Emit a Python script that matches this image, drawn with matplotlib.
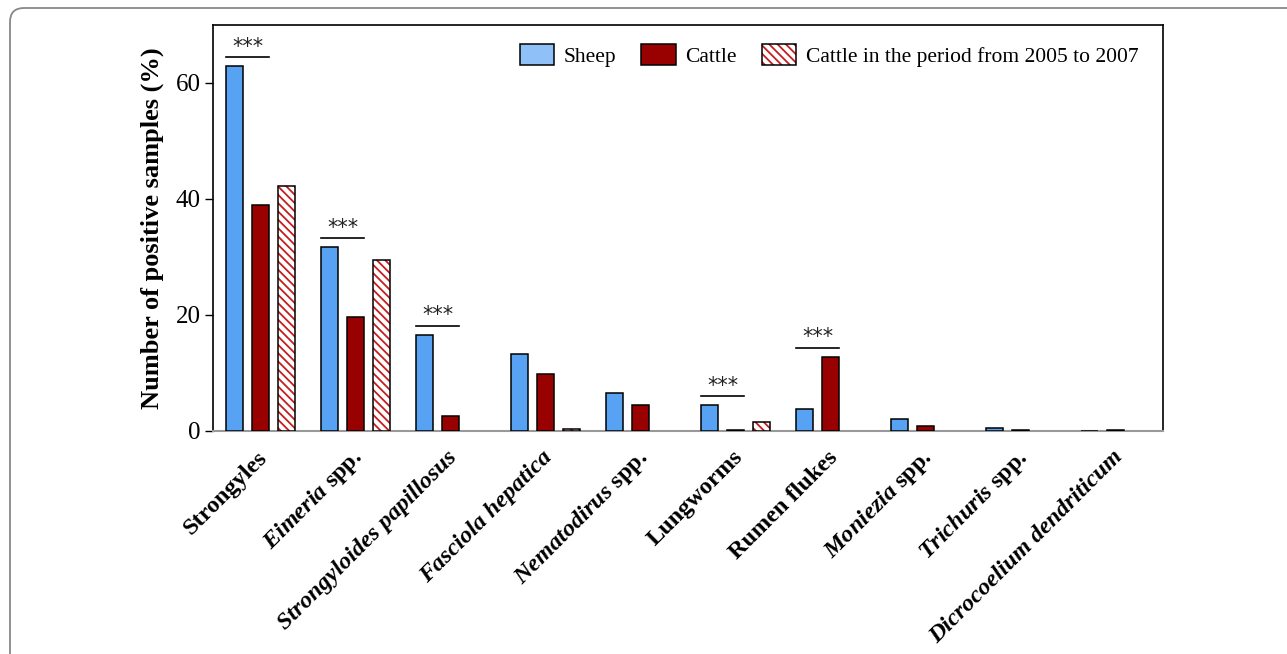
import matplotlib.pyplot as plt
import numpy as np
from matplotlib.patches import Rectangle, FancyBboxPatch
from matplotlib.legend_handler import HandlerTuple

plt.rcParams['font.family'] = ['Liberation Serif', 'DejaVu Serif']
plt.rcParams['mathtext.fontset'] = 'custom'
plt.rcParams['mathtext.rm'] = 'Liberation Serif:bold'
plt.rcParams['mathtext.it'] = 'Liberation Serif:italic:bold'
plt.rcParams['hatch.linewidth'] = 1.3

parasitos = [r'Strongyles', r'$Eimeria$ spp.', r'Strongyloides papillosus',
             r'Fasciola hepatica', r'$Nematodirus$ spp.', r'Lungworms',
             r'Rumen flukes', r'$Moniezia$ spp.', r'$Trichuris$ spp.',
             r'Dicrocoelium dendriticum']
cursiva = [False, False, True, True, False, False, False, False, False, True]

ovejas = [62.9, 31.7, 16.6, 13.3, 6.6, 4.5, 3.8, 2.1, 0.6, 0.0]
vacas = [39.0, 19.7, 2.6, 9.8, 4.5, 0.2, 12.8, 0.85, 0.15, 0.15]
vacas_2005 = [42.2, 29.5, 0.0, 0.3, 0.0, 1.6, 0.0, 0.0, 0.0, 0.0]

# grupos con diferencia significativa (ovejas vs vacas)
signif = [0, 1, 2, 5, 6]

azul = '#58A2F3'
rojo = '#990000'
rojo_rayas = '#C41E1E'

fig = plt.figure(figsize=(12.87, 6.54), dpi=100)

# marco redondeado de la figura
marco = FancyBboxPatch((10, -60), 1400, 654 - 8 + 60,
                       boxstyle='round,pad=0,rounding_size=14',
                       transform=None, fill=False, edgecolor='#888888',
                       linewidth=1.3)
fig.patches.append(marco)

ax = fig.add_axes([0.1655, 0.341, 0.7382, 0.6208])

x = np.arange(len(parasitos))
ancho = 0.18
sep = 0.27

ax.bar(x - sep, ovejas, ancho, color=azul, edgecolor='black', linewidth=1.1, zorder=3)
ax.bar(x, vacas, ancho, color=rojo, edgecolor='black', linewidth=1.1, zorder=3)

v05 = np.array(vacas_2005)
mask = v05 > 0
ax.bar(x[mask] + sep, v05[mask], ancho, color='white', edgecolor=rojo_rayas,
       hatch='\\\\\\\\', linewidth=0, zorder=3)
ax.bar(x[mask] + sep, v05[mask], ancho, fill=False, edgecolor='black',
       linewidth=1.1, zorder=4)

for i in signif:
    tope = max(ovejas[i], vacas[i]) + 1.5
    ax.plot([x[i] - sep - ancho / 2, x[i] + ancho / 2], [tope, tope],
            color='black', linewidth=1.2, zorder=5)
    ax.text(x[i] - sep / 2, tope + 0.1, '***', ha='center', va='bottom',
            fontsize=15, family='DejaVu Sans', color='#222222')

ax.set_xlim(-0.5, len(parasitos) - 0.5)
ax.set_ylim(0, 70)
ax.set_yticks([0, 20, 40, 60])
ax.tick_params(axis='y', labelsize=18, length=6, width=1, direction='out', pad=3)
ax.tick_params(axis='x', length=0)
ax.set_xticks(x)
ax.set_xticklabels([])

for i, nombre in enumerate(parasitos):
    ax.text(x[i] + 0.04, -4, nombre, rotation=45, rotation_mode='anchor',
            ha='right', va='center', fontsize=17.5, fontweight='bold',
            fontstyle='italic' if cursiva[i] else 'normal',
            transform=ax.transData, clip_on=False)

ax.set_ylabel('Number of positive samples (%)', fontsize=19, fontweight='bold',
              labelpad=8)

for lado in ['left', 'top', 'right']:
    ax.spines[lado].set_linewidth(1.2)
    ax.spines[lado].set_color('black')
ax.spines['bottom'].set_color('#999999')
ax.spines['bottom'].set_linewidth(1.5)

h_ov = Rectangle((0, 0), 1, 1, facecolor='#8FC0F7', edgecolor='black', linewidth=1.1)
h_va = Rectangle((0, 0), 1, 1, facecolor=rojo, edgecolor='black', linewidth=1.1)
h_ra = Rectangle((0, 0), 1, 1, facecolor='white', edgecolor=rojo_rayas,
                 hatch='\\\\\\\\', linewidth=0)
h_bo = Rectangle((0, 0), 1, 1, fill=False, edgecolor='black', linewidth=1.1)
ax.legend([h_ov, h_va, (h_ra, h_bo)],
          ['Sheep', 'Cattle', 'Cattle in the period from 2005 to 2007'],
          handler_map={tuple: HandlerTuple(ndivide=1)},
          loc='upper right', ncol=3, frameon=False, fontsize=15.5,
          handlelength=1.6, handleheight=1.15, handletextpad=0.45,
          columnspacing=1.15, borderaxespad=0, bbox_to_anchor=(0.983, 0.975))

fig.savefig('out.png', dpi=100)
